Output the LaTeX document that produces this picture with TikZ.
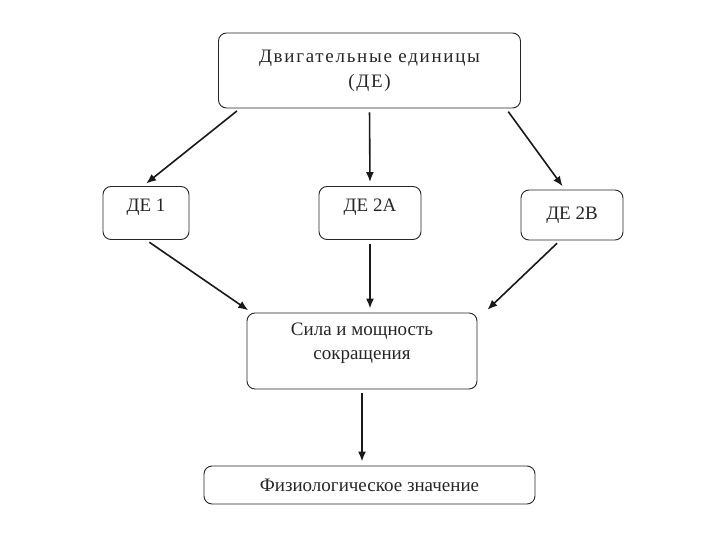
\documentclass[tikz,border=0pt]{standalone}
\usepackage{fontspec}
\setmainfont{Liberation Serif}
\newfontfamily\widefont[LetterSpace=9]{Liberation Serif}
\usetikzlibrary{positioning,calc,arrows.meta}

\tikzset{
    unit/.style={draw=black!85, rounded corners=8pt, line width=0.9pt, align=center,
        font=\fontsize{19}{24}\selectfont, text=black!85, inner sep=0pt},
    link/.style={-{Latex[length=10pt,width=8pt]}, line width=1.6pt, black!90,
        shorten <=4pt, shorten >=4pt}
}

\begin{document}
\begin{tikzpicture}[x=1pt,y=-1pt]
    \useasboundingbox (0,0) rectangle (720,540);
    % boxes
    \node[unit, minimum width=302pt, minimum height=75pt, font=\widefont\fontsize{19}{25}\selectfont] (de) at (369.5,70.5) {Двигательные единицы\\(ДЕ)};
    \node[unit, minimum width=86pt, minimum height=53pt, text height=13pt, text depth=16pt] (de1) at (146,213) {ДЕ 1};
    \node[unit, minimum width=102pt, minimum height=53pt, text height=13pt, text depth=16pt] (de2a) at (370,213) {ДЕ 2А};
    \node[unit, minimum width=102pt, minimum height=50pt, text height=13pt, text depth=4pt] (de2b) at (572,215) {ДЕ 2В};
    \node[unit, minimum width=230pt, minimum height=76pt] (sila) at (362,351) {Сила и мощность\\сокращения\\[-4pt]\mbox{}};
    \node[unit, minimum width=331pt, minimum height=38pt] (phys) at (369.5,485) {Физиологическое значение};
    % arrows
    \draw[link] ([xshift=22pt]de.south west) -- ([xshift=-3pt]de1.north);
    \draw[link] (de.south) -- (de2a.north);
    \draw[link] ([xshift=-15pt]de.south east) -- ([xshift=-7pt]de2b.north);
    \draw[link] (de1.south) -- ([xshift=5pt]sila.north west);
    \draw[link] (de2a.south) -- (de2a.south |- sila.north);
    \draw[link] ([xshift=-12pt]de2b.south) -- ([xshift=7pt]sila.north east);
    \draw[link] (sila.south) -- (sila.south |- phys.north);
\end{tikzpicture}
\end{document}
